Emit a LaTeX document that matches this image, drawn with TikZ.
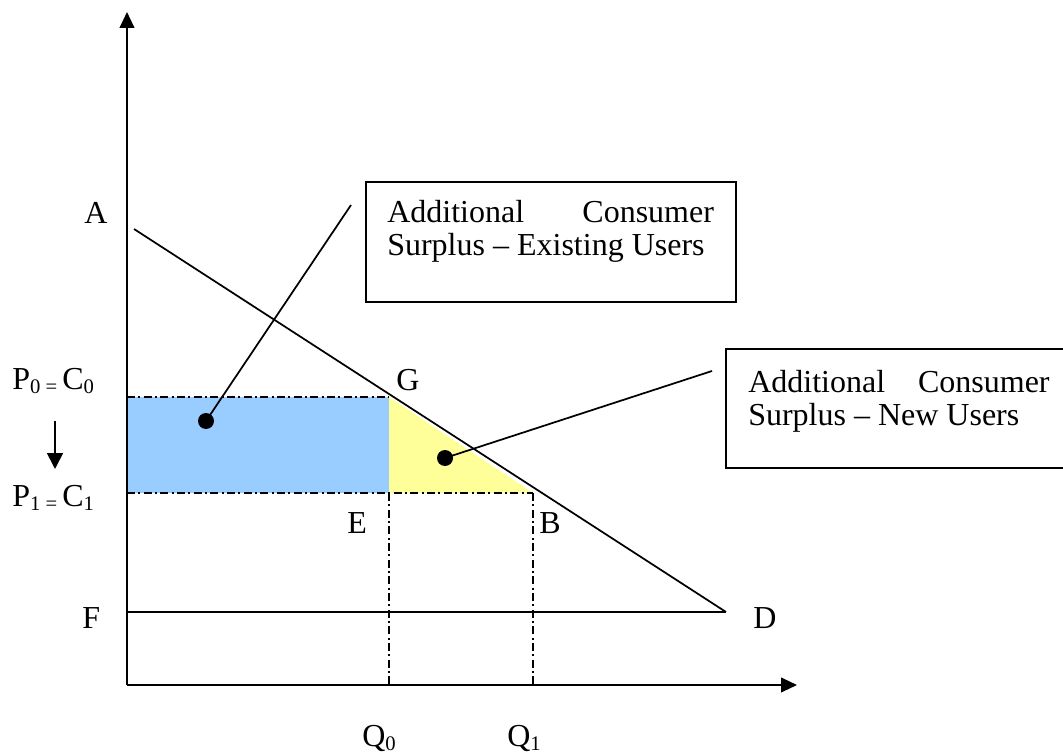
\documentclass[tikz,border=0pt]{standalone}
\usepackage{fontspec}
\setmainfont{Liberation Serif}
\usetikzlibrary{arrows.meta}
\definecolor{areablue}{HTML}{99CCFF}
\definecolor{areayellow}{HTML}{FFFF99}
\newcommand{\lsub}[1]{\raisebox{-3pt}{\fontsize{15.5}{15.5}\selectfont #1}}
\begin{document}
\begin{tikzpicture}[x=0.75pt,y=-0.75pt,
 lbl/.style={font=\fontsize{24}{25}\selectfont, inner sep=0pt, anchor=base west},
 dd/.style={line width=1.1pt, dash pattern=on 6pt off 2.5pt on 1.5pt off 2.5pt},
 axis/.style={line width=1.5pt, -{Triangle[length=12pt,width=11pt]}},
 thinline/.style={line width=1.3pt},
 boxs/.style={draw, line width=1.2pt, inner sep=0pt},
 txt/.style={font=\fontsize{24}{24.75}\selectfont, inner sep=0pt, anchor=north west, align=justify},
 blob/.style={circle, fill, inner sep=0pt, minimum size=12pt}]
\useasboundingbox (0,0) rectangle (1063,755);
% key coordinates
\coordinate (O) at (127,685);
\coordinate (Ytop) at (127,12);
\coordinate (Xend) at (797,685);
\coordinate (Adem) at (134,229);
\coordinate (D) at (726,612);
\coordinate (Fl) at (127,612);
\coordinate (G) at (389,397);
\coordinate (E) at (389,493);
\coordinate (B) at (533,493);
\coordinate (P0) at (127,397);
\coordinate (P1) at (127,493);
\coordinate (Q0) at (389,685);
\coordinate (Q1) at (533,685);
% areas
\fill[areablue] (P0) rectangle (E);
\fill[areayellow] (G) -- (E) -- (B) -- cycle;
% dash-dot guides
\draw[dd] (P0) -- (G);
\draw[dd] (P1) -- (B);
\draw[dd] (E) -- (Q0);
\draw[dd] (B) -- (Q1);
% axes
\draw[axis] (O) -- (Ytop);
\draw[axis] (O) -- (Xend);
% demand and cost lines
\draw[thinline] (Adem) -- (D);
\draw[thinline] (Fl) -- (D);
% price change arrow
\coordinate (ar1) at (55,421);
\coordinate (ar2) at (55,469);
\draw[thinline, -{Triangle[length=12pt,width=12pt]}] (ar1) -- (ar2);
% boxes
\node[boxs, minimum width=277.5pt, minimum height=90pt] (box1) at (551,242) {};
\node[boxs, minimum width=261.75pt, minimum height=89.25pt] (box2) at (900.5,408.5) {};
\node[txt, text width=245pt] (t1) at (387,200) {Additional Consumer\linebreak Surplus – Existing Users};
\node[txt, text width=226pt] (t2) at (748,370) {Additional Consumer\linebreak Surplus – New Users};
% callouts
\node[blob] (d1) at (206,421) {};
\node[blob] (d2) at (445,458) {};
\coordinate (c1) at (351,205);
\coordinate (c2) at (712,371);
\draw[thinline] (c1) -- (d1.center);
\draw[thinline] (c2) -- (d2.center);
% labels
\node[lbl] (lA) at (84,224) {A};
\node[lbl] (lG) at (396,390) {G};
\node[lbl] (lP0) at (12,389) {P\lsub{0 = }C\lsub{0}};
\node[lbl] (lP1) at (12,506) {P\lsub{1 = }C\lsub{1}};
\node[lbl] (lE) at (347,533) {E};
\node[lbl] (lB) at (539,533) {B};
\node[lbl] (lF) at (82,628) {F};
\node[lbl] (lD) at (753,628) {D};
\node[lbl] (lQ0) at (362,746) {Q\lsub{0}};
\node[lbl] (lQ1) at (507,746) {Q\lsub{1}};
\end{tikzpicture}
\end{document}
